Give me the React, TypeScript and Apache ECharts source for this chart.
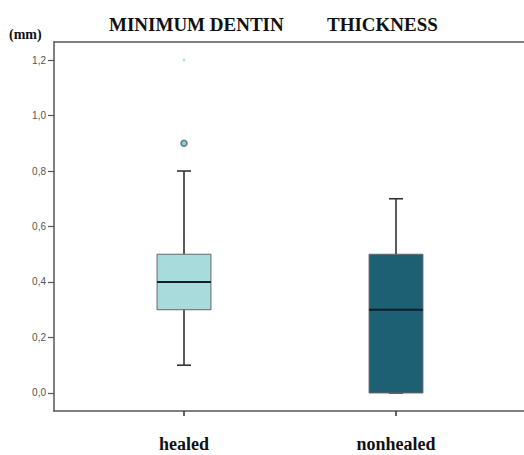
import React, { useEffect, useRef } from "react";
import * as echarts from "echarts";

const categories = ["healed", "nonhealed"];
// [min, Q1, median, Q3, max]
const boxValues = [
  [0.1, 0.3, 0.4, 0.5, 0.8],
  [0.0, 0.0, 0.3, 0.5, 0.7],
];
const outliers = [[0, 0.9]];
const extremes = [[0, 1.2]];
const yTicks = [0, 0.2, 0.4, 0.6, 0.8, 1.0, 1.2];
const boxColors = ["#a8dcdc", "#1d5f73"];

const SERIF = "'Liberation Serif', 'Times New Roman', serif";
const AXIS_COLOR = "#555";

export default function App() {
  const ref = useRef<HTMLDivElement>(null);
  useEffect(() => {
    if (!ref.current) return;
    const chart = echarts.init(ref.current, undefined, { renderer: "svg" });
    const yMin = -0.065;
    const yMax = 1.265;
    chart.setOption({
      animation: false,
      backgroundColor: "#fff",
      title: [
        {
          text: "MINIMUM DENTIN",
          left: 104,
          top: 10,
          textStyle: { fontFamily: SERIF, fontWeight: "bold", fontSize: 19, color: "#111" },
        },
        {
          text: "THICKNESS",
          left: 322,
          top: 10,
          textStyle: { fontFamily: SERIF, fontWeight: "bold", fontSize: 19, color: "#111" },
        },
        {
          text: "(mm)",
          left: 4,
          top: 22,
          textStyle: { fontFamily: SERIF, fontWeight: "bold", fontSize: 14, color: "#111" },
        },
      ],
      grid: [
        { left: 54, right: -4, top: 42, bottom: 44 },
        { left: 78, width: 424, top: 42, bottom: 44 },
      ],
      xAxis: [
        {
          gridIndex: 0,
          type: "value",
          min: 0,
          max: 1,
          position: "bottom",
          axisLine: { show: true, onZero: false, lineStyle: { color: AXIS_COLOR, width: 1.5 } },
          axisTick: { show: false },
          axisLabel: { show: false },
          splitLine: { show: false },
        },
        {
          gridIndex: 0,
          type: "value",
          min: 0,
          max: 1,
          position: "top",
          axisLine: { show: true, onZero: false, lineStyle: { color: AXIS_COLOR, width: 1.5 } },
          axisTick: { show: false },
          axisLabel: { show: false },
          splitLine: { show: false },
        },
        {
          gridIndex: 1,
          type: "category",
          data: categories,
          position: "bottom",
          axisLine: { show: false, onZero: false },
          axisTick: {
            show: true,
            alignWithLabel: true,
            length: 5,
            lineStyle: { color: "#333", width: 1.5 },
          },
          axisLabel: {
            margin: 24,
            fontFamily: SERIF,
            fontWeight: "bold",
            fontSize: 18,
            color: "#111",
          },
          splitLine: { show: false },
        },
      ],
      yAxis: [
        {
          gridIndex: 0,
          type: "value",
          min: yMin,
          max: yMax,
          axisLine: { show: true, onZero: false, lineStyle: { color: AXIS_COLOR, width: 1.5 } },
          axisTick: {
            show: true,
            length: 6,
            customValues: yTicks,
            lineStyle: { color: AXIS_COLOR, width: 1.2 },
          },
          axisLabel: {
            customValues: yTicks,
            margin: 8,
            fontFamily: "'Liberation Sans', Arial, sans-serif",
            fontSize: 10,
            color: "#555",
            formatter: (v: number) => v.toFixed(1).replace(".", ","),
          },
          splitLine: { show: false },
        },
        {
          gridIndex: 1,
          type: "value",
          min: yMin,
          max: yMax,
          show: false,
        },
      ],
      series: [
        {
          type: "custom",
          xAxisIndex: 2,
          yAxisIndex: 1,
          data: boxValues.map((b, i) => [i, ...b]),
          renderItem: (params: any, api: any) => {
            const idx = api.value(0);
            const vals = [1, 2, 3, 4, 5].map((d) => api.value(d));
            const pts = vals.map((v) => api.coord([idx, v]));
            const cx = pts[0][0];
            const band = api.size([1, 0])[0];
            const half = band * 0.127;
            const cap = 7;
            const fill = boxColors[idx];
            const lineStyle = { stroke: "#333", lineWidth: 1.6 };
            return {
              type: "group",
              children: [
                { type: "line", shape: { x1: cx, y1: pts[0][1], x2: cx, y2: pts[1][1] }, style: lineStyle },
                { type: "line", shape: { x1: cx, y1: pts[3][1], x2: cx, y2: pts[4][1] }, style: lineStyle },
                { type: "line", shape: { x1: cx - cap, y1: pts[0][1], x2: cx + cap, y2: pts[0][1] }, style: lineStyle },
                { type: "line", shape: { x1: cx - cap, y1: pts[4][1], x2: cx + cap, y2: pts[4][1] }, style: lineStyle },
                {
                  type: "rect",
                  shape: { x: cx - half, y: pts[3][1], width: half * 2, height: pts[1][1] - pts[3][1] },
                  style: { fill, stroke: "#666", lineWidth: 1 },
                },
                {
                  type: "line",
                  shape: { x1: cx - half, y1: pts[2][1], x2: cx + half, y2: pts[2][1] },
                  style: { stroke: "#0a1f26", lineWidth: 2.2 },
                },
              ],
            };
          },
        },
        {
          type: "scatter",
          xAxisIndex: 2,
          yAxisIndex: 1,
          data: outliers,
          symbol: "circle",
          symbolSize: 6,
          itemStyle: { color: "#7fb8b8", borderColor: "#2e6b72", borderWidth: 1.5 },
        },
        {
          type: "scatter",
          xAxisIndex: 2,
          yAxisIndex: 1,
          data: extremes,
          symbol: "circle",
          symbolSize: 3,
          itemStyle: { color: "#a8e0e0", opacity: 0.8 },
        },
      ],
    });
    return () => chart.dispose();
  }, []);
  return (
    <div
      ref={ref}
      style={{ position: "fixed", left: 0, top: 0, width: 524, height: 455 }}
    />
  );
}
